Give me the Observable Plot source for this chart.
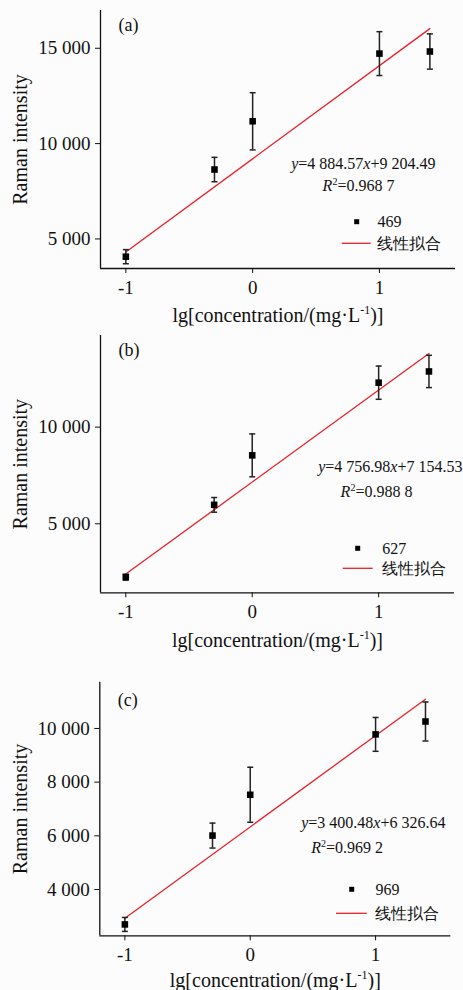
<!DOCTYPE html>
<html><head><meta charset="utf-8">
<script src="https://cdn.jsdelivr.net/npm/d3@7"></script>
<script src="https://cdn.jsdelivr.net/npm/@observablehq/plot@0.6"></script>
<style>
body{margin:0;background:#fcfcfc;}
#chart svg{display:block;}
</style></head><body><div id="chart"></div>
<script>
// lg of concentrations 0.1, 0.5, 1, 10, 25 mg/L
const lgConc = [-1, -0.301, 0, 1, 1.398];
const xTicks = [-1, 0, 1];

const meanA = [4070, 8640, 11170, 14720, 14830];
const errA  = [370, 640, 1500, 1150, 925];
const meanB = [2240, 5980, 8540, 12300, 12880];
const errB  = [150, 380, 1110, 860, 835];
const meanC = [2700, 6010, 7530, 9780, 10260];
const errC  = [260, 465, 1025, 630, 727];

const fitX = [-1, 1.398];
const fitA = [4320, 16030];
const fitB = [2400, 13810];
const fitC = [2930, 11090];

const yTicksA = [5000, 10000, 15000];
const yTicksB = [5000, 10000];
const yTicksC = [4000, 6000, 8000, 10000];

const panelLabels = ["(a)", "(b)", "(c)"];
const seriesNames = ["469", "627", "969"];
const fitName = "线性拟合";
const slopes = ["4 884.57", "4 756.98", "3 400.48"];
const intercepts = ["9 204.49", "7 154.53", "6 326.64"];
const r2Values = ["0.968 7", "0.988 8", "0.969 2"];
const yLabel = "Raman intensity";
const xLabelMain = "lg[concentration/(mg·L";
const xLabelSup = "-1";
const xLabelEnd = ")]";

const FONT = "'Liberation Serif','Times New Roman',serif";
const fmt = d => String(d).replace(/\B(?=(\d{3})+(?!\d))/g, " ");
const capSym = {draw(ctx, size){ const r = Math.sqrt(size/Math.PI); ctx.moveTo(-r,0); ctx.lineTo(r,0); }};

const layouts = [
  {mt:10, mb:62, ml:100, mr:8, yDomain:[3450,16980], labDy:15, eqDx:-20, eqDy:153, r2Dx:-97, r2Dy:175,
   sqDx:-98.3, sqDy:211.7, nameDx:-78, lnX1:-113.3, lnX2:-84.3, lnDy:233.3, fitDx:-79, xlDy:47, ylDx:-80},
  {mt:5, mb:67.7, ml:100, mr:9, yDomain:[1430,14740], labDy:15, eqDx:8, eqDy:131.7, r2Dx:-78, r2Dy:156.7,
   sqDx:-96.3, sqDy:213.3, nameDx:-72.3, lnX1:-111.3, lnX2:-81.3, lnDy:233.3, fitDx:-72.3, xlDy:47.7, ylDx:-80},
  {mt:21.7, mb:54.7, ml:99.3, mr:12.7, yDomain:[2276,11724], labDy:17.6, eqDx:-5.3, eqDy:140.6, r2Dx:-103.6, r2Dy:166,
   sqDx:-98.6, sqDy:207.6, nameDx:-75.3, lnX1:-114.3, lnX2:-83.6, lnDy:231.6, fitDx:-76.3, xlDy:44.7, ylDx:-79.3}
];
const means = [meanA, meanB, meanC];
const errs = [errA, errB, errC];
const fits = [fitA, fitB, fitC];
const yTicks = [yTicksA, yTicksB, yTicksC];

function panel(k) {
  const L = layouts[k];
  const pts = lgConc.map((x,i)=>({x, y: means[k][i], lo: means[k][i]-errs[k][i], hi: means[k][i]+errs[k][i]}));
  const fit = fitX.map((x,i)=>({x, y: fits[k][i]}));
  const legend = (...args) => {
    const dims = args.find(a => a && a.marginLeft !== undefined && a.width !== undefined);
    const right = dims.width - dims.marginRight, top = dims.marginTop;
    const g = d3.create("svg:g");
    const s = 5;
    g.append("rect").attr("x", right + L.sqDx - s/2).attr("y", top + L.sqDy - s/2).attr("width", s).attr("height", s).attr("fill", "#000");
    g.append("line").attr("x1", right + L.lnX1).attr("x2", right + L.lnX2).attr("y1", top + L.lnDy).attr("y2", top + L.lnDy)
      .attr("stroke", "#e8212a").attr("stroke-width", 1.3);
    return g.node();
  };
  const svg = Plot.plot({
    width: 463, height: 330,
    marginTop: L.mt, marginBottom: L.mb, marginLeft: L.ml, marginRight: L.mr,
    style: {fontFamily: FONT, fontSize: "19px", background: "transparent", color: "#111", overflow: "visible"},
    x: {domain: [-1.2, 1.6]},
    y: {domain: L.yDomain},
    marks: [
      Plot.axisX({ticks: xTicks, tickFormat: d => String(d), tickSize: 5, tickPadding: 7, label: null}),
      Plot.axisY({ticks: yTicks[k], tickFormat: fmt, tickSize: 5, tickPadding: 5, label: null}),
      Plot.ruleX([-1.2], {stroke: "#111", strokeWidth: 1.3}),
      Plot.ruleY([L.yDomain[0]], {stroke: "#111", strokeWidth: 1.3}),
      Plot.line(fit, {x: "x", y: "y", stroke: "#e8212a", strokeWidth: 1.3}),
      Plot.ruleX(pts, {x: "x", y1: "lo", y2: "hi", stroke: "#222", strokeWidth: 1.5}),
      Plot.dot(pts, {x: "x", y: "hi", symbol: capSym, r: 3, fill: "none", stroke: "#222", strokeWidth: 1.5}),
      Plot.dot(pts, {x: "x", y: "lo", symbol: capSym, r: 3, fill: "none", stroke: "#222", strokeWidth: 1.5}),
      Plot.dot(pts, {x: "x", y: "y", symbol: "square", r: 3.7, fill: "#000", stroke: "none"}),
      Plot.text([panelLabels[k]], {frameAnchor: "top-left", dx: 18, dy: L.labDy, textAnchor: "start", lineAnchor: "middle", fontSize: 18}),
      Plot.text([yLabel], {frameAnchor: "left", dx: L.ylDx, rotate: -90, textAnchor: "middle", lineAnchor: "middle", fontSize: 20}),
      Plot.text([xLabelMain + xLabelSup + xLabelEnd], {frameAnchor: "bottom", dy: L.xlDy, lineAnchor: "middle", fontSize: 20, className: "xlab"}),
      Plot.text(["y=" + slopes[k] + "x+" + intercepts[k]], {frameAnchor: "top-right", dx: L.eqDx, dy: L.eqDy, textAnchor: "end", lineAnchor: "middle", fontSize: 16, className: "eqn"}),
      Plot.text(["R2=" + r2Values[k]], {frameAnchor: "top-right", dx: L.r2Dx, dy: L.r2Dy, textAnchor: "middle", lineAnchor: "middle", fontSize: 16, className: "rsq"}),
      Plot.text([seriesNames[k]], {frameAnchor: "top-right", dx: L.nameDx, dy: L.sqDy, textAnchor: "start", lineAnchor: "middle", fontSize: 16}),
      Plot.text([fitName], {frameAnchor: "top-right", dx: L.fitDx, dy: L.lnDy, textAnchor: "start", lineAnchor: "middle", fontSize: 15.5}),
      legend
    ]
  });
  const it = 'font-style="italic"';
  d3.select(svg).selectAll("g.eqn text").html(`<tspan ${it}>y</tspan>=${slopes[k]}<tspan ${it}>x</tspan>+${intercepts[k]}`);
  d3.select(svg).selectAll("g.rsq text").html(`<tspan ${it}>R</tspan><tspan dy="-6" font-size="10">2</tspan><tspan dy="6">=${r2Values[k]}</tspan>`);
  d3.select(svg).selectAll("g.xlab text").html(`${xLabelMain}<tspan dy="-8" font-size="12">${xLabelSup}</tspan><tspan dy="8">${xLabelEnd}</tspan>`);
  return svg;
}
const chart = document.getElementById("chart");
for (let k = 0; k < 3; k++) chart.appendChild(panel(k));
</script></body></html>
